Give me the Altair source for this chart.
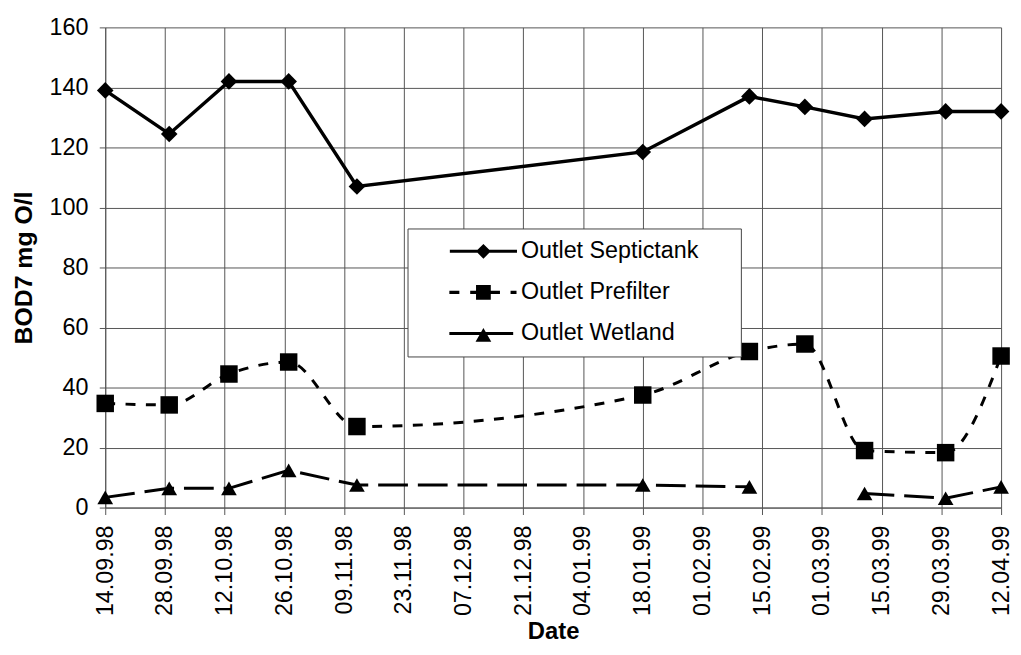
import altair as alt
import pandas as pd
from datetime import datetime, timezone

# ---- data ----
tick_labels = ["14.09.98", "28.09.98", "12.10.98", "26.10.98", "09.11.98", "23.11.98",
               "07.12.98", "21.12.98", "04.01.99", "18.01.99", "01.02.99", "15.02.99",
               "01.03.99", "15.03.99", "29.03.99", "12.04.99"]
sample_dates = ["1998-09-14", "1998-09-29", "1998-10-13", "1998-10-27", "1998-11-12",
                "1999-01-18", "1999-02-12", "1999-02-25", "1999-03-11", "1999-03-30",
                "1999-04-12"]
septictank = [139, 124.5, 142, 142, 107, 118.5, 137, 133.5, 129.5, 132, 132]
prefilter = [34.7, 34.2, 44.5, 48.5, 27, 37.5, 52, 54.5, 19, 18.3, 50.5]
wetland = [3.4, 6.4, 6.4, 12.4, 7.5, 7.5, 6.9, None, 4.7, 3.1, 6.9]
series_names = ["Outlet Septictank", "Outlet Prefilter", "Outlet Wetland"]
y_ticks = [0, 20, 40, 60, 80, 100, 120, 140, 160]


def to_ms(label):
    d = datetime.strptime(label, "%d.%m.%y").replace(tzinfo=timezone.utc)
    return int(d.timestamp() * 1000)


tick_ms = [to_ms(t) for t in tick_labels]

rows = []
for name, vals in zip(series_names, [septictank, prefilter, wetland]):
    seg = 0
    for d, v in zip(sample_dates, vals):
        if v is None:
            seg += 1
            continue
        rows.append({"date": d, "series": name, "value": v, "seg": seg})
df = pd.DataFrame(rows)

FONT = "Liberation Sans"
GRID = "#555555"

X = alt.X("date:T",
          scale=alt.Scale(type="utc", domain=[tick_ms[0], tick_ms[-1]], nice=False),
          axis=alt.Axis(values=tick_ms,
                        labelExpr="utcFormat(datum.value, '%d.%m.%y')",
                        labelAngle=270, labelFont=FONT, labelFontSize=23.5,
                        labelColor="black", labelPadding=10.5, tickSize=7,
                        tickColor=GRID, domainColor=GRID, grid=True,
                        gridColor=GRID, gridWidth=1, labelOverlap=False,
                        title="Date", titleFont=FONT, titleFontSize=24,
                        titleFontWeight="bold", titleColor="black",
                        titlePadding=4))
Y = alt.Y("value:Q",
          scale=alt.Scale(domain=[0, 160], nice=False),
          axis=alt.Axis(values=y_ticks, labelFont=FONT, labelFontSize=23.5,
                        labelColor="black", labelPadding=11.5, tickSize=6,
                        tickColor=GRID, domainColor=GRID, grid=True,
                        gridColor=GRID, gridWidth=1,
                        title="BOD7 mg O/l", titleFont=FONT, titleFontSize=25,
                        titleFontWeight="bold", titleColor="black",
                        titlePadding=13))

base = alt.Chart(df)


def sel(name):
    return base.transform_filter(alt.datum.series == name)


line_sept = sel(series_names[0]).mark_line(color="black", strokeWidth=3.5).encode(
    x=X, y=Y, detail="seg:N")
line_pre = sel(series_names[1]).mark_line(color="black", strokeWidth=3,
                                          strokeDash=[10, 10.5],
                                          interpolate="monotone").encode(
    x=X, y=Y, detail="seg:N")
line_wet = sel(series_names[2]).mark_line(color="black", strokeWidth=3,
                                          strokeDash=[30, 10]).encode(
    x=X, y=Y, detail="seg:N")

pt_sept = sel(series_names[0]).mark_point(shape="diamond", filled=True, color="black",
                                          size=280, opacity=1).encode(x=X, y=Y)
pt_pre = sel(series_names[1]).mark_point(shape="square", filled=True, color="black",
                                         size=310, opacity=1).encode(x=X, y=Y)
pt_wet = sel(series_names[2]).mark_point(shape="triangle-up", filled=True, color="black",
                                         size=250, opacity=1).encode(x=X, y=Y)


# legend symbols: line + marker drawn as one filled custom path per entry
def bar(x0, x1, h=0.13):
    return f"M{x0},{-h}L{x1},{-h}L{x1},{h}L{x0},{h}Z"


EXT = "M-5.5,0M20.68,0"
legend_paths = [
    EXT + bar(-2.82, 2.82) + "M0,-0.62L0.62,0L0,0.62L-0.62,0Z",
    EXT + bar(-2.86, -2.02) + bar(-1.11, 1.39) + bar(2.28, 2.78)
    + "M-0.62,-0.62L0.62,-0.62L0.62,0.62L-0.62,0.62Z",
    EXT + bar(-2.86, 2.5) + "M0,-0.45L0.66,0.7L-0.66,0.7Z",
]

legend_layer = base.transform_filter("false").mark_point(
    filled=True, color="black", opacity=1, size=576
).encode(
    shape=alt.Shape("series:N",
                    scale=alt.Scale(domain=series_names, range=legend_paths),
                    legend=alt.Legend(orient="none", legendX=304.7, legendY=202.7,
                                      title=None, labelFont=FONT, labelFontSize=23.5,
                                      labelColor="black", symbolSize=576,
                                      symbolStrokeWidth=0, symbolFillColor="black",
                                      symbolOffset=53.5, labelOffset=25.8,
                                      padding=11, rowPadding=17.4,
                                      strokeColor="#444444", fillColor="white",
                                      labelLimit=400))
)

chart = alt.layer(line_sept, line_pre, line_wet, pt_sept, pt_pre, pt_wet,
                  legend_layer).properties(
    width=903, height=484,
    autosize=alt.AutoSizeParams(type="none"),
    padding={"left": 98, "top": 17, "right": 12, "bottom": 138},
    background="white",
).configure_view(strokeWidth=0)

chart.save("out.html", embed_options={"renderer": "svg", "actions": False})
